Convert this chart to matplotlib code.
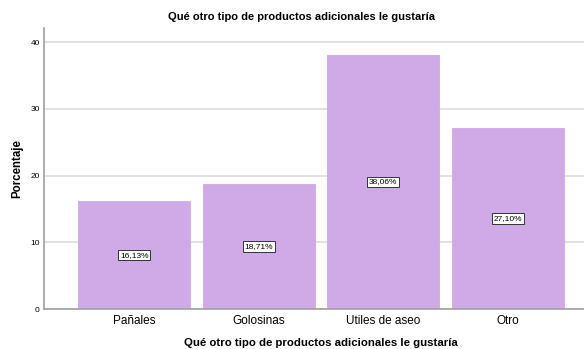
import matplotlib.pyplot as plt

plt.rcParams['font.family'] = ['Liberation Sans', 'DejaVu Sans']

categorias = ['Pañales', 'Golosinas', 'Utiles de aseo', 'Otro']
porcentajes = [16.13, 18.71, 38.06, 27.10]
etiquetas = ['16,13%', '18,71%', '38,06%', '27,10%']
yticks = [0, 10, 20, 30, 40]

fig = plt.figure(figsize=(5.84, 3.49), dpi=100)
# plot area runs a little past the right edge of the figure
ax = fig.add_axes([0.0753, 0.1146, 0.9486, 0.8052])

x = range(len(categorias))
bars = ax.bar(x, porcentajes, width=0.9, color='#D0AAE6', edgecolor='#C9A0E0',
              linewidth=0.5, zorder=2)

# value labels centred inside each bar
for b, txt in zip(bars, etiquetas):
    ax.text(b.get_x() + b.get_width() / 2, b.get_height() / 2, txt,
            ha='center', va='center', fontsize=6, zorder=3,
            bbox=dict(boxstyle='square,pad=0.2', fc='white', ec='#333333', lw=0.7))

ax.set_xlim(-0.724, 3.724)
ax.set_ylim(0, 42.1)
ax.set_yticks(yticks)
ax.set_yticklabels([str(v) for v in yticks], fontsize=6)
ax.set_xticks(list(x))
ax.set_xticklabels(categorias, fontsize=8.5)
ax.yaxis.grid(True, color='#DCDCDC', lw=1.2, zorder=0)
ax.set_axisbelow(True)

for s in ['top', 'right']:
    ax.spines[s].set_visible(False)
ax.spines['left'].set_color('#A0A0A0')
ax.spines['bottom'].set_color('#A0A0A0')
ax.spines['left'].set_linewidth(1.2)
ax.spines['bottom'].set_linewidth(1.2)
ax.tick_params(axis='both', length=0, pad=4)
ax.tick_params(axis='y', pad=3)

ax.set_ylabel('Porcentaje', fontsize=8.3, fontweight='bold', labelpad=5)
ax.set_xlabel('Qué otro tipo de productos adicionales le gustaría', fontsize=8.2,
              fontweight='bold', labelpad=8)
fig.text(0.517, 0.952, 'Qué otro tipo de productos adicionales le gustaría',
         ha='center', va='center', fontsize=8, fontweight='bold')

fig.savefig('out.png', dpi=100)
